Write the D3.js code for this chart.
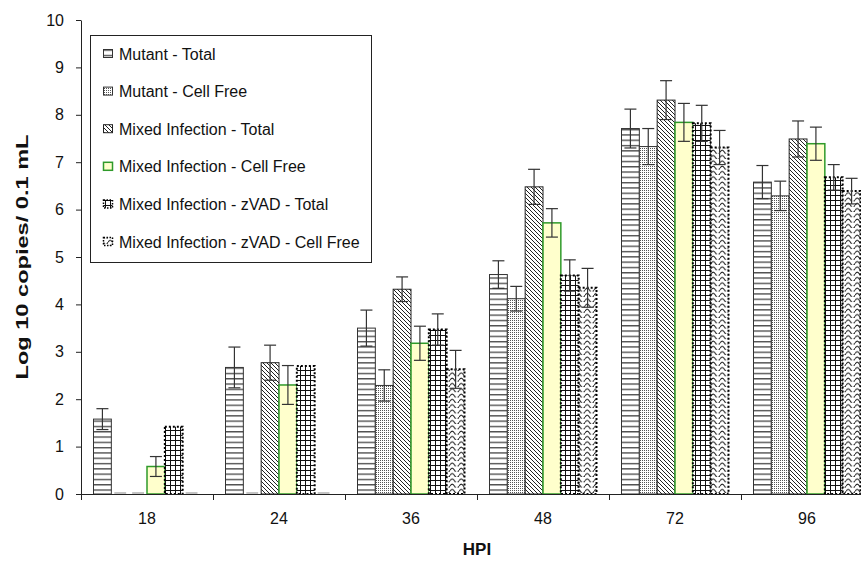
<!DOCTYPE html>
<html>
<head>
<meta charset="utf-8">
<script src="https://cdn.jsdelivr.net/npm/d3@7/dist/d3.min.js"></script>
<style>
  html, body { margin: 0; padding: 0; background: #fff; }
  svg { display: block; font-family: "Liberation Sans", Arial, Helvetica, sans-serif; }
</style>
</head>
<body>
<svg id="chart" width="861" height="564"></svg>
<script>
// Hours post infection
const categories = ["18", "24", "36", "48", "72", "96"];

const seriesNames = [
  "Mutant - Total",
  "Mutant - Cell Free",
  "Mixed Infection - Total",
  "Mixed Infection - Cell Free",
  "Mixed Infection - zVAD - Total",
  "Mixed Infection - zVAD - Cell Free"
];

// Log10 copies / 0.1 mL, with standard error
const mutantTotal        = [1.58, 2.67, 3.50, 4.63, 7.71, 6.58];
const mutantTotalErr     = [0.22, 0.43, 0.38, 0.29, 0.41, 0.35];
const mutantCellFree     = [0, 0, 2.29, 4.12, 7.33, 6.29];
const mutantCellFreeErr  = [0, 0, 0.33, 0.26, 0.38, 0.31];
const mixedTotal         = [0, 2.77, 4.32, 6.48, 8.31, 7.49];
const mixedTotalErr      = [0, 0.37, 0.26, 0.37, 0.41, 0.38];
const mixedCellFree      = [0.58, 2.30, 3.18, 5.72, 7.84, 7.39];
const mixedCellFreeErr   = [0.21, 0.41, 0.36, 0.30, 0.40, 0.35];
const zvadTotal          = [1.42, 2.70, 3.47, 4.61, 7.82, 6.68];
const zvadTotalErr       = [0, 0, 0.33, 0.33, 0.38, 0.27];
const zvadCellFree       = [0, 0, 2.63, 4.35, 7.31, 6.39];
const zvadCellFreeErr    = [0, 0, 0.40, 0.41, 0.36, 0.27];

const yTicks = [0, 1, 2, 3, 4, 5, 6, 7, 8, 9, 10];

const seriesValues = [mutantTotal, mutantCellFree, mixedTotal, mixedCellFree, zvadTotal, zvadCellFree];
const seriesErrors = [mutantTotalErr, mutantCellFreeErr, mixedTotalErr, mixedCellFreeErr, zvadTotalErr, zvadCellFreeErr];

// Fill / outline style per series
const styles = [
  { fill: "url(#p-hlines)", stroke: "#333", width: 1, dash: null },
  { fill: "url(#p-dots)",   stroke: "#333", width: 1, dash: null },
  { fill: "url(#p-diag)",   stroke: "#222", width: 1, dash: null },
  { fill: "#ffffcc",        stroke: "#2f9a2a", width: 1.5, dash: null },
  { fill: "url(#p-grid)",   stroke: "#000", width: 2, dash: "2 2" },
  { fill: "url(#p-wave)",   stroke: "#000", width: 2, dash: "2 2" }
];

const svg = d3.select("#chart");
const plot = { left: 81, right: 873, top: 20, bottom: 494 };
const font = '"Liberation Sans", Arial, sans-serif';

// ---- hatch patterns ----
const defs = svg.append("defs");

let p = defs.append("pattern").attr("id", "p-hlines").attr("patternUnits", "userSpaceOnUse")
  .attr("width", 6).attr("height", 5.3);
p.append("rect").attr("width", 6).attr("height", 5.3).attr("fill", "#fff");
p.append("line").attr("x1", 0).attr("x2", 6).attr("y1", 2.5).attr("y2", 2.5)
  .attr("stroke", "#222").attr("stroke-width", 1.1);

p = defs.append("pattern").attr("id", "p-dots").attr("patternUnits", "userSpaceOnUse")
  .attr("width", 2).attr("height", 2);
p.append("rect").attr("width", 2).attr("height", 2).attr("fill", "#fff");
p.append("rect").attr("x", 0).attr("y", 0).attr("width", 1).attr("height", 1).attr("fill", "#555");

p = defs.append("pattern").attr("id", "p-diag").attr("patternUnits", "userSpaceOnUse")
  .attr("width", 4).attr("height", 4);
p.append("rect").attr("width", 4).attr("height", 4).attr("fill", "#fff");
p.append("path").attr("d", "M-1,-1 L5,5 M-1,3 L1,5 M3,-1 L5,1")
  .attr("stroke", "#222").attr("stroke-width", 1);

p = defs.append("pattern").attr("id", "p-grid").attr("patternUnits", "userSpaceOnUse")
  .attr("width", 5).attr("height", 5);
p.append("rect").attr("width", 5).attr("height", 5).attr("fill", "#fff");
p.append("path").attr("d", "M0.5,0 V5 M0,0.5 H5")
  .attr("stroke", "#111").attr("stroke-width", 1);

p = defs.append("pattern").attr("id", "p-wave").attr("patternUnits", "userSpaceOnUse")
  .attr("width", 9).attr("height", 5.3);
p.append("rect").attr("width", 9).attr("height", 5.3).attr("fill", "#fff");
p.append("path").attr("d", "M0,3.8 Q2.25,-0.2 4.5,3.8 T9,3.8")
  .attr("fill", "none").attr("stroke", "#222").attr("stroke-width", 1.1);

// ---- scales ----
const x = d3.scaleBand().domain(categories).range([plot.left, plot.right]);
const inner = d3.scaleBand().domain(seriesNames)
  .range([12.5, x.bandwidth() - 12.5]);
const y = d3.scaleLinear().domain([0, 10]).range([plot.bottom, plot.top]);

const rows = [];
seriesNames.forEach((name, si) => {
  categories.forEach((c, ci) => {
    rows.push({ name, si, c, v: seriesValues[si][ci], e: seriesErrors[si][ci] });
  });
});

// ---- bars ----
const bars = svg.append("g");
rows.filter(d => d.v > 0).forEach(d => {
  const s = styles[d.si];
  bars.append("rect")
    .attr("x", x(d.c) + inner(d.name))
    .attr("y", y(d.v))
    .attr("width", inner.bandwidth())
    .attr("height", y(0) - y(d.v))
    .attr("fill", s.fill)
    .attr("stroke", s.stroke)
    .attr("stroke-width", s.width)
    .attr("stroke-dasharray", s.dash);
});
// zero-height bars leave only their outline on the baseline
rows.filter(d => d.v === 0).forEach(d => {
  bars.append("line")
    .attr("x1", x(d.c) + inner(d.name) + 3)
    .attr("x2", x(d.c) + inner(d.name) + inner.bandwidth() - 3)
    .attr("y1", y(0) - 1).attr("y2", y(0) - 1)
    .attr("stroke", "#888").attr("stroke-width", 1);
});

// ---- error bars ----
const errs = svg.append("g").attr("stroke", "#333").attr("stroke-width", 1.2);
rows.filter(d => d.e > 0).forEach(d => {
  const cx = x(d.c) + inner(d.name) + inner.bandwidth() / 2;
  const y1 = y(d.v + d.e), y2 = y(d.v - d.e);
  errs.append("line").attr("x1", cx).attr("x2", cx).attr("y1", y1).attr("y2", y2);
  errs.append("line").attr("x1", cx - 6).attr("x2", cx + 6).attr("y1", y1).attr("y2", y1);
  errs.append("line").attr("x1", cx - 6).attr("x2", cx + 6).attr("y1", y2).attr("y2", y2);
});

// ---- axes ----
const yAxis = d3.axisLeft(y).tickValues(yTicks).tickFormat(d3.format("d"))
  .tickSize(5).tickSizeOuter(0).tickPadding(12);
const gy = svg.append("g").attr("transform", `translate(${plot.left},0)`).call(yAxis);
gy.selectAll("text").attr("font-size", 16).attr("fill", "#111").attr("font-family", font);
gy.selectAll("line, path").attr("stroke", "#222");

const xAxis = d3.axisBottom(x).tickSize(0).tickPadding(19).tickSizeOuter(0);
const gx = svg.append("g").attr("transform", `translate(0,${plot.bottom})`).call(xAxis);
gx.select(".domain").remove();
gx.selectAll("text").attr("font-size", 16).attr("fill", "#111").attr("font-family", font);
svg.append("line").attr("x1", plot.left).attr("x2", 861)
  .attr("y1", plot.bottom + 0.5).attr("y2", plot.bottom + 0.5).attr("stroke", "#222");
svg.append("g").selectAll("line").data(categories).join("line")
  .attr("x1", d => Math.round(x(d)) + 0.5).attr("x2", d => Math.round(x(d)) + 0.5)
  .attr("y1", plot.bottom).attr("y2", plot.bottom + 6).attr("stroke", "#222");

// ---- titles ----
svg.append("text").attr("x", 477).attr("y", 555).attr("text-anchor", "middle")
  .attr("font-size", 17).attr("font-weight", "bold").attr("fill", "#111").text("HPI");
svg.append("text").attr("transform", "translate(28,257) rotate(-90)")
  .attr("text-anchor", "middle").attr("font-size", 17).attr("font-weight", "bold")
  .attr("textLength", 245).attr("lengthAdjust", "spacingAndGlyphs")
  .attr("fill", "#111").text("Log 10 copies/ 0.1 mL");

// ---- legend ----
const lg = svg.append("g");
lg.append("rect").attr("x", 90.5).attr("y", 35.5).attr("width", 281).attr("height", 227)
  .attr("fill", "#fff").attr("stroke", "#222").attr("stroke-width", 1);
seriesNames.forEach((name, i) => {
  const cy = 54 + i * 37.6;
  const s = styles[i];
  lg.append("rect").attr("x", 103.5).attr("y", cy - 4.5).attr("width", 9).attr("height", 8)
    .attr("fill", s.fill).attr("stroke", s.stroke)
    .attr("stroke-width", Math.min(s.width, 1.5)).attr("stroke-dasharray", s.dash ? "1.5 1.5" : null);
  lg.append("text").attr("x", 119).attr("y", cy + 5.5).attr("font-size", 16)
    .attr("fill", "#111").text(name);
});
</script>
</body>
</html>
